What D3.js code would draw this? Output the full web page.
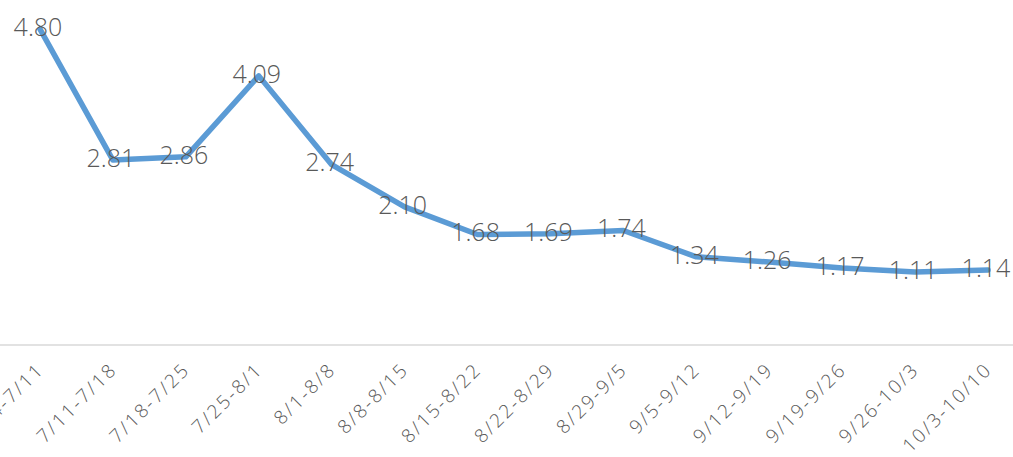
<!DOCTYPE html>
<html>
<head>
<meta charset="utf-8">
<script src="https://cdn.jsdelivr.net/npm/d3@7"></script>
<style>
  html, body { margin: 0; padding: 0; background: #fff; }
  svg { display: block; }
</style>
</head>
<body>
<svg id="chart" width="1013" height="457"></svg>
<script>
const categories = ["7/4-7/11","7/11-7/18","7/18-7/25","7/25-8/1","8/1-8/8","8/8-8/15","8/15-8/22","8/22-8/29","8/29-9/5","9/5-9/12","9/12-9/19","9/19-9/26","9/26-10/3","10/3-10/10"];
const values = [4.80, 2.81, 2.86, 4.09, 2.74, 2.10, 1.68, 1.69, 1.74, 1.34, 1.26, 1.17, 1.11, 1.14];

const svg = d3.select("#chart");
const W = 1013, H = 457;
const x = d3.scalePoint().domain(categories).range([40, 988]);
const y = d3.scaleLinear().domain([0, 5]).range([345, 16]);

// axis line
svg.append("line")
  .attr("x1", 0).attr("x2", W)
  .attr("y1", y(0)).attr("y2", y(0))
  .attr("stroke", "#d9d9d9").attr("stroke-width", 1.5);

// x labels
const xAxis = d3.axisBottom(x).tickSize(0).tickPadding(0);
const gx = svg.append("g").attr("transform", `translate(0,${y(0)})`).call(xAxis);
gx.select(".domain").remove();
gx.selectAll("text")
  .attr("fill", "#595959")
  .attr("font-family", "'Open Sans', 'Noto Sans', sans-serif")
  .attr("font-weight", 300)
  .attr("font-size", 19)
  .attr("letter-spacing", "2.2px")
  .attr("text-anchor", "end")
  .attr("dy", "0.35em")
  .attr("y", 0)
  .attr("transform", "translate(0,21) rotate(-45)");

// line
const line = d3.line().x((d, i) => x(categories[i])).y(d => y(d));
svg.append("path")
  .datum(values)
  .attr("fill", "none")
  .attr("stroke", "#5b9bd5")
  .attr("stroke-width", 5.5)
  .attr("stroke-linejoin", "round")
  .attr("stroke-linecap", "round")
  .attr("d", line);

// value labels
svg.append("g").selectAll("text")
  .data(values)
  .join("text")
  .attr("x", (d, i) => x(categories[i]) - 2)
  .attr("y", d => y(d) - 2)
  .attr("dy", "0.35em")
  .attr("text-anchor", "middle")
  .attr("fill", "#595959")
  .attr("font-family", "'Open Sans', 'Noto Sans', sans-serif")
  .attr("font-weight", 300)
  .attr("font-size", 25)
  .text(d => d.toFixed(2));
</script>
</body>
</html>
